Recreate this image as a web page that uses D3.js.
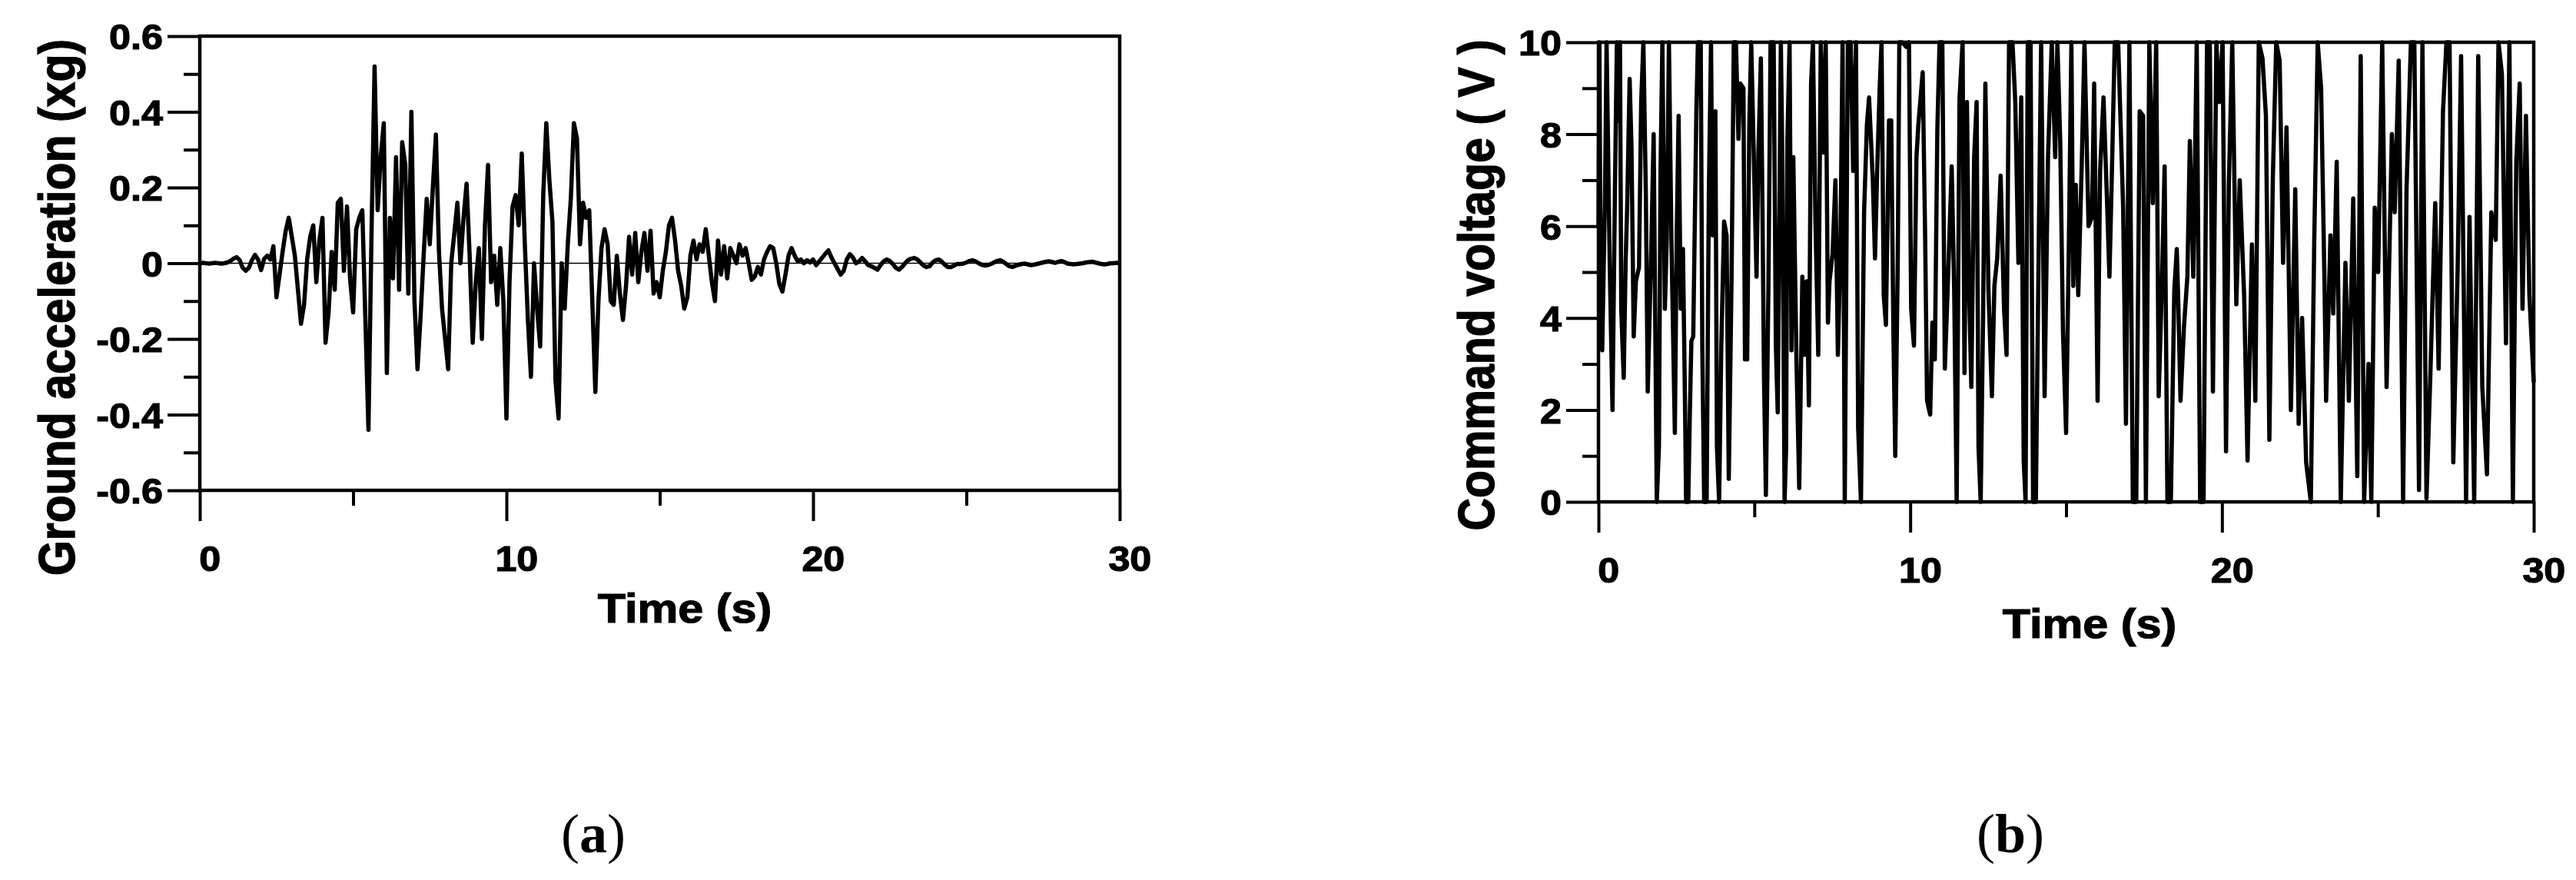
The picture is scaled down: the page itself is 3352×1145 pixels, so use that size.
<!DOCTYPE html>
<html>
<head>
<meta charset="utf-8">
<script src="https://cdn.jsdelivr.net/npm/d3@7"></script>
<style>
    body { margin: 0; background: #fff; }
    text { font-family: "Liberation Sans", Arial, sans-serif; font-weight: bold; fill: #000; stroke: #000; stroke-width: 1.2px; }
    .caption { font-family: "Liberation Serif", "Times New Roman", serif; font-weight: normal; stroke: none; }
</style>
</head>
<body>
<div id="chart"></div>
<script>
// (a) Ground acceleration (xg), one value every 0.1 s from 0 to 30 s
var accelStep = 0.1;
var accelValues = [
    0, 0.001, 0, -0.001, 0, 0.001, 0, -0.001, 0, 0.002,
    0.006, 0.012, 0.016, 0.008, -0.012, -0.02, -0.012, 0.008, 0.022, 0.01,
    -0.018, 0.012, 0.02, 0.01, 0.045, -0.09, -0.03, 0.03, 0.085, 0.12,
    0.07, 0.02, -0.07, -0.16, -0.11, 0.01, 0.07, 0.1, -0.05, 0.06,
    0.12, -0.21, -0.13, 0.03, -0.07, 0.16, 0.17, -0.02, 0.15, -0.04,
    -0.13, 0.09, 0.12, 0.14, -0.15, -0.44, 0.08, 0.52, 0.14, 0.28,
    0.37, -0.29, 0.12, -0.04, 0.28, -0.07, 0.32, 0.26, -0.08, 0.4,
    -0.1, -0.28, -0.14, 0.02, 0.17, 0.05, 0.2, 0.34, 0.03, -0.12,
    -0.2, -0.28, 0.0, 0.08, 0.16, 0.0, 0.12, 0.21, 0.02, -0.21,
    -0.05, 0.04, -0.2, 0.1, 0.26, -0.05, 0.02, -0.11, 0.04, -0.1,
    -0.41, -0.05, 0.15, 0.18, 0.1, 0.29, 0.05, -0.15, -0.3, 0.0,
    -0.12, -0.22, 0.18, 0.37, 0.22, 0.11, -0.31, -0.41, 0.0, -0.12,
    0.05, 0.17, 0.37, 0.33, 0.05, 0.16, 0.12, 0.14, -0.1, -0.34,
    -0.1, 0.04, 0.09, 0.05, -0.1, -0.11, 0.02, -0.08, -0.15, -0.06,
    0.07, -0.03, 0.08, -0.05, 0.03, 0.08, -0.02, 0.086, -0.08, -0.05,
    -0.09, -0.02, 0.03, 0.1, 0.12, 0.06, -0.02, -0.06, -0.12, -0.09,
    0.02, 0.06, 0.01, 0.05, 0.03, 0.09, 0.02, -0.05, -0.1, 0.06,
    -0.03, 0.045, -0.04, 0.04, 0.02, 0.0, 0.05, 0.02, 0.04, 0.0,
    -0.044, -0.035, -0.01, -0.03, 0.01, 0.03, 0.045, 0.04, 0.0, -0.055,
    -0.075, -0.03, 0.02, 0.04, 0.02, 0.005, 0.01, 0.0, 0.008, 0.002,
    0.01, -0.005, 0.005, 0.015, 0.025, 0.034, 0.015, 0.0, -0.015, -0.03,
    -0.02, 0.01, 0.024, 0.015, 0.0, 0.005, 0.014, 0.005, -0.005, -0.008,
    -0.012, -0.017, -0.005, 0.005, 0.01, 0.006, -0.002, -0.012, -0.017, -0.01,
    0.0, 0.008, 0.012, 0.014, 0.01, 0.002, -0.006, -0.01, -0.008, 0.002,
    0.008, 0.01, 0.004, -0.004, -0.01, -0.01, -0.006, -0.002, -0.002, -0.001,
    0.002, 0.006, 0.008, 0.005, 0.0, -0.004, -0.006, -0.005, -0.002, 0.002,
    0.006, 0.008, 0.004, -0.002, -0.008, -0.01, -0.007, -0.004, -0.002, -0.001,
    -0.003, -0.005, -0.004, -0.002, 0.0, 0.002, 0.004, 0.005, 0.003, 0.001,
    0.004, 0.006, 0.003, -0.001, -0.002, -0.003, -0.002, -0.001, 0.0, 0.002,
    0.003, 0.004, 0.002, 0.0, -0.002, -0.003, -0.002, 0.0, 0.0, 0.001,
    0
];

// (b) Command voltage (V): times (s) and values
var voltTimes = [
    0, 0.03, 0.07, 0.12, 0.21, 0.26, 0.36, 0.45, 0.53, 0.59, 0.64, 0.69, 0.73, 0.81, 0.87, 0.92, 1.0, 1.06, 1.13, 1.2, 1.3, 1.37, 1.44, 1.52, 1.58, 1.68, 1.77, 1.87, 1.94, 1.99,
    2.05, 2.13, 2.19, 2.26, 2.34, 2.45, 2.51, 2.57, 2.64, 2.71, 2.78, 2.81, 2.88, 2.93, 2.98, 3.04, 3.14, 3.19, 3.28, 3.33, 3.39, 3.47, 3.54, 3.61, 3.66, 3.75, 3.8, 3.87, 3.94,
    4.03, 4.11, 4.18, 4.27, 4.34, 4.41, 4.49, 4.55, 4.65, 4.7, 4.77, 4.84, 4.9, 4.98, 5.07, 5.13, 5.21, 5.26, 5.31, 5.37, 5.45, 5.52, 5.62, 5.69, 5.75, 5.85, 5.9, 5.97,
    6.02, 6.06, 6.13, 6.19, 6.25, 6.35, 6.44, 6.54, 6.6, 6.68, 6.75, 6.82, 6.88, 6.96, 7.05, 7.13, 7.22, 7.29, 7.36, 7.41, 7.51, 7.6, 7.68, 7.76, 7.83, 7.9,
    8.0, 8.09, 8.17, 8.26, 8.33, 8.42, 8.52, 8.61, 8.68, 8.8, 8.87, 8.94, 9.02, 9.08, 9.15, 9.22, 9.32, 9.39, 9.46, 9.52, 9.6, 9.65, 9.74, 9.87, 9.96,
    10.03, 10.12, 10.2, 10.26, 10.4, 10.48, 10.54, 10.64, 10.71, 10.79, 10.87, 10.94, 11.03, 11.11, 11.2, 11.33, 11.41, 11.49, 11.58, 11.68, 11.74, 11.82, 11.88, 11.96,
    12.05, 12.13, 12.19, 12.26, 12.34, 12.41, 12.51, 12.62, 12.7, 12.79, 12.9, 13.01, 13.09, 13.17, 13.28, 13.37, 13.47, 13.56, 13.64, 13.7, 13.77, 13.86, 13.94,
    14.03, 14.13, 14.2, 14.31, 14.42, 14.54, 14.65, 14.72, 14.81, 14.9, 15.0, 15.09, 15.17, 15.23, 15.31, 15.39, 15.5, 15.59, 15.72, 15.83, 15.9,
    16.01, 16.09, 16.2, 16.31, 16.39, 16.47, 16.56, 16.67, 16.75, 16.83, 16.92, 17.03, 17.14, 17.25, 17.36, 17.47, 17.56, 17.67, 17.78, 17.89, 17.97,
    18.08, 18.16, 18.25, 18.36, 18.47, 18.55, 18.6, 18.67, 18.78, 18.89, 18.97, 19.08, 19.19, 19.3, 19.41, 19.52, 19.61, 19.71, 19.82, 19.91,
    20.02, 20.13, 20.22, 20.33, 20.46, 20.57, 20.71, 20.82, 20.96, 21.07, 21.18, 21.3, 21.41, 21.52, 21.63, 21.74, 21.85, 21.96,
    22.07, 22.21, 22.35, 22.46, 22.57, 22.7, 22.85, 22.96, 23.07, 23.18, 23.29, 23.34, 23.48, 23.57, 23.68, 23.81, 23.96,
    24.07, 24.21, 24.34, 24.45, 24.56, 24.7, 24.79, 24.9, 25.01, 25.14, 25.28, 25.45, 25.54, 25.67, 25.81, 25.92,
    26.06, 26.17, 26.32, 26.43, 26.56, 26.69, 26.84, 26.95, 27.09, 27.2, 27.3, 27.42, 27.56, 27.67, 27.83, 27.94,
    28.09, 28.22, 28.35, 28.5, 28.64, 28.78, 28.87, 28.98, 29.11, 29.22, 29.33, 29.44, 29.55, 29.64, 29.75, 29.86, 30
];
var voltValues = [
    6.0, 10, 4.5, 3.3, 6.7, 10, 5.2, 2.0, 6.9, 10, 8.3, 10, 4.2, 2.7, 5.2, 6.4, 9.2, 7.7, 3.6, 4.8, 5.1, 8.7, 10, 6.7, 2.4, 5.1, 8.0, 0, 1.2, 7.2,
    10, 4.2, 5.7, 10, 5.7, 1.5, 5.8, 8.4, 4.2, 5.5, 1.9, 0, 0, 1.9, 3.5, 3.6, 8.5, 10, 10, 3.4, 0, 0, 6.7, 10, 5.8, 8.5, 1.2, 0, 3.4,
    6.1, 5.8, 0.5, 4.9, 10, 10, 7.9, 9.1, 9.0, 3.1, 3.1, 8.3, 10, 7.6, 4.9, 7.6, 9.65, 6.4, 2.7, 0.15, 4.6, 10, 10, 3.4, 1.95, 10, 7.4, 0,
    1.2, 7.9, 10, 3.3, 7.5, 3.1, 0.3, 4.9, 3.2, 4.8, 2.1, 9.1, 10, 6.1, 3.2, 10, 7.6, 10, 3.9, 4.8, 5.4, 7.0, 3.2, 5.5, 10, 0,
    10, 10, 7.2, 10, 1.6, 0, 6.3, 8.2, 8.8, 7.0, 5.3, 7.2, 9.0, 10, 4.5, 3.85, 8.3, 8.3, 3.7, 1.0, 5.2, 10, 10, 9.9, 10,
    4.2, 3.4, 7.5, 8.2, 9.35, 5.7, 2.2, 1.9, 3.9, 3.1, 8.1, 10, 10, 2.9, 4.6, 7.3, 4.6, 0, 8.75, 10, 2.8, 8.7, 4.9, 2.5,
    7.5, 8.7, 1.2, 0, 4.2, 9.1, 4.6, 2.3, 4.7, 5.3, 7.1, 4.2, 3.2, 10, 10, 8.7, 5.2, 8.8, 0.9, 0, 10, 10, 0,
    0, 6.1, 10, 2.3, 7.5, 10, 7.5, 10, 7.9, 3.7, 1.5, 5.7, 10, 4.7, 6.9, 4.5, 7.3, 10, 6.0, 6.2, 9.1,
    2.2, 7.2, 8.8, 6.6, 4.9, 7.2, 10, 10, 8.2, 6.4, 1.7, 10, 0, 0, 8.5, 8.4, 0, 10, 6.5, 10, 2.3,
    4.9, 7.3, 0, 0, 4.6, 5.5, 4.3, 2.2, 3.8, 4.9, 7.85, 4.9, 10, 0, 0, 10, 10, 2.4, 10, 8.7,
    10, 1.1, 6.9, 10, 4.3, 7.0, 4.5, 0.9, 5.6, 2.2, 10, 9.65, 8.4, 1.35, 7.0, 10, 9.6, 5.2,
    8.15, 2.0, 6.8, 1.7, 4.0, 0.86, 0, 5.7, 10, 9.0, 4.7, 2.2, 5.8, 4.1, 7.4, 0, 5.2,
    2.2, 6.6, 0.56, 9.7, 0, 3.0, 0, 6.4, 5.0, 10, 2.5, 8.0, 6.3, 9.6, 0, 6.8,
    10, 10, 0.26, 10, 0.08, 2.9, 6.5, 2.9, 8.5, 10, 10, 0.86, 5.1, 9.7, 0, 6.2,
    0, 9.7, 2.5, 0.6, 6.3, 5.7, 10, 9.3, 3.45, 10, 0, 7.4, 9.1, 4.2, 8.4, 4.5, 2.6
];

// Tick values
var timeTicks = [0, 10, 20, 30];
var timeMinorTicks = [5, 15, 25];
var accelTicks = [-0.6, -0.4, -0.2, 0, 0.2, 0.4, 0.6];
var accelMinorTicks = [-0.5, -0.3, -0.1, 0.1, 0.3, 0.5];
var voltTicks = [0, 2, 4, 6, 8, 10];
var voltMinorTicks = [1, 3, 5, 7, 9];

// Titles and captions
var timeTitle = "Time (s)";
var accelTitle = "Ground acceleration (xg)";
var voltTitle = "Command voltage ( V )";
var captionLetters = ["a", "b"];

var width = 3352, height = 1145;

var svg = d3.select("#chart")
            .append("svg")
            .attr("width", width)
            .attr("height", height);

svg.append("rect")
   .attr("width", width)
   .attr("height", height)
   .attr("fill", "#fff");

function drawPanel(p) {

    var xScale = d3.scaleLinear().domain([0, 30]).range([p.left, p.right]);
    var yScale = d3.scaleLinear().domain(p.yDomain).range([p.bottom, p.top]);

    // minor ticks on x
    svg.append("g")
       .attr("class", "axis")
       .attr("transform", "translate(0," + p.bottom + ")")
       .call(d3.axisBottom(xScale).tickValues(timeMinorTicks).tickSize(20).tickFormat(""));

    // major ticks on x with labels
    var xAxis = svg.append("g")
       .attr("class", "axis")
       .attr("transform", "translate(0," + p.bottom + ")")
       .call(d3.axisBottom(xScale).tickValues(timeTicks).tickSize(40).tickPadding(32));
    xAxis.selectAll("text")
         .attr("dx", 12)
         .attr("transform", "scale(1.07,1)");

    // minor ticks on y
    svg.append("g")
       .attr("class", "axis")
       .attr("transform", "translate(" + p.left + ",0)")
       .call(d3.axisLeft(yScale).tickValues(p.yMinor).tickSize(21).tickFormat(""));

    // major ticks on y with labels
    var yAxis = svg.append("g")
       .attr("class", "axis")
       .attr("transform", "translate(" + p.left + ",0)")
       .call(d3.axisLeft(yScale).tickValues(p.yTicks).tickSize(42).tickPadding(3).tickFormat(p.yFormat));
    yAxis.selectAll("text")
         .attr("dy", "0.36em")
         .attr("transform", "scale(1.07,1)");

    svg.selectAll(".axis")
       .attr("font-size", 47)
       .attr("font-family", null);
    svg.selectAll(".axis .domain").remove();
    svg.selectAll(".axis line")
       .attr("stroke", "#000")
       .attr("stroke-width", 4);

    // thin zero line (panel a only)
    if (p.zeroLine) {
        svg.append("line")
           .attr("x1", xScale(0))
           .attr("x2", xScale(30))
           .attr("y1", yScale(0))
           .attr("y2", yScale(0))
           .attr("stroke", "#000")
           .attr("stroke-width", 1.5);
    }

    // the trace
    var line = d3.line()
                 .x(function(d) { return xScale(d.t); })
                 .y(function(d) { return yScale(d.v); });

    svg.append("path")
       .datum(p.data)
       .attr("d", line)
       .attr("fill", "none")
       .attr("stroke", "#000")
       .attr("stroke-width", 5.5)
       .attr("stroke-linejoin", "round");

    // frame
    svg.append("rect")
       .attr("x", p.left)
       .attr("y", p.top)
       .attr("width", p.right - p.left)
       .attr("height", p.bottom - p.top)
       .attr("fill", "none")
       .attr("stroke", "#000")
       .attr("stroke-width", 4.5);

    // x title
    svg.append("text")
       .attr("text-anchor", "middle")
       .attr("font-size", 53)
       .attr("transform", "translate(" + p.xTitlePos[0] + "," + p.xTitlePos[1] + ") scale(1.12,1)")
       .text(timeTitle);

    // y title
    svg.append("text")
       .attr("text-anchor", "middle")
       .attr("font-size", 59)
       .attr("transform", "translate(" + p.yTitlePos[0] + "," + p.yTitlePos[1] + ") rotate(-90) scale(1,1.13)")
       .text(p.yTitle);

    // caption
    var cap = svg.append("text")
       .attr("class", "caption")
       .attr("text-anchor", "middle")
       .attr("font-size", 72)
       .attr("x", p.captionPos[0])
       .attr("y", p.captionPos[1]);
    cap.append("tspan").text("(");
    cap.append("tspan").attr("font-weight", "bold").text(p.caption);
    cap.append("tspan").text(")");
}

var accelData = accelValues.map(function(v, i) {
    return {t: i * accelStep, v: v};
});
var voltData = voltTimes.map(function(t, i) {
    return {t: t, v: voltValues[i]};
});

drawPanel({
    left: 260, right: 1457, top: 47, bottom: 638,
    yDomain: [-0.6, 0.6],
    yTicks: accelTicks,
    yMinor: accelMinorTicks,
    yFormat: function(d) { return d === 0 ? "0" : d.toFixed(1); },
    zeroLine: true,
    data: accelData,
    xTitlePos: [891, 810],
    yTitlePos: [97, 400],
    yTitle: accelTitle,
    captionPos: [772, 1109],
    caption: captionLetters[0]
});

drawPanel({
    left: 2080, right: 3297, top: 55, bottom: 653,
    yDomain: [0, 10],
    yTicks: voltTicks,
    yMinor: voltMinorTicks,
    yFormat: function(d) { return String(d); },
    zeroLine: false,
    data: voltData,
    xTitlePos: [2719, 830],
    yTitlePos: [1944, 371],
    yTitle: voltTitle,
    captionPos: [2616, 1109],
    caption: captionLetters[1]
});
</script>
</body>
</html>
